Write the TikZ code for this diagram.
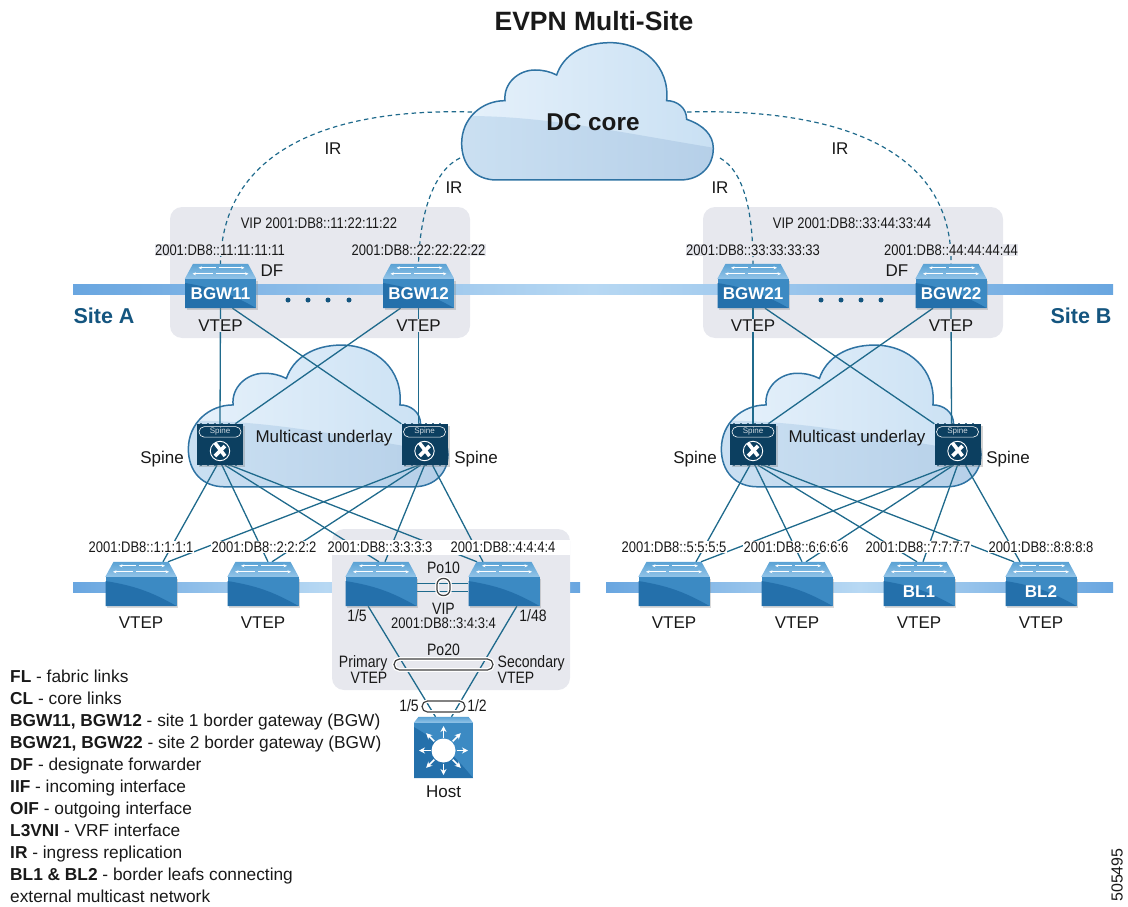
\documentclass[tikz,border=0pt]{standalone}
\usepackage{fontspec}
\setmainfont{Liberation Sans}
\newfontfamily\narrowfont[FakeStretch=0.85]{Liberation Sans}
\usetikzlibrary{calc,shapes.misc,arrows.meta,shadows}

\definecolor{panelgray}{HTML}{E7E8EE}
\definecolor{linkteal}{HTML}{1F6A8C}
\definecolor{bandblue}{HTML}{69A6E0}
\definecolor{bandpale}{HTML}{B7D8F3}
\definecolor{sitenavy}{HTML}{14557F}
\definecolor{swfront}{HTML}{3C8AC3}
\definecolor{swdark}{HTML}{2470AB}
\definecolor{swupper}{HTML}{5AA2D4}
\definecolor{swlower}{HTML}{93C4E8}
\definecolor{spinenavy}{HTML}{0C3F60}
\definecolor{cloudpale}{HTML}{E6F1FB}
\definecolor{cloudmid}{HTML}{C9E0F3}
\definecolor{cloudlowa}{HTML}{CBE0F2}
\definecolor{cloudlowb}{HTML}{B5CFE8}
\definecolor{cloudedge}{HTML}{2F73A3}

\pgfdeclarelayer{backdrop}
\pgfdeclarelayer{wires}
\pgfsetlayers{backdrop,wires,main}

\newcommand{\cloudoutline}{(170,450) .. controls (105,450) and (65,405) .. (65,340)
  .. controls (65,265) and (125,212) .. (195,212)
  .. controls (190,160) and (235,120) .. (285,120)
  .. controls (310,120) and (330,125) .. (350,135)
  .. controls (370,75) and (430,38) .. (510,38)
  .. controls (610,38) and (690,110) .. (680,212)
  .. controls (710,212) and (740,232) .. (740,268)
  .. controls (790,285) and (820,315) .. (820,355)
  .. controls (820,410) and (780,450) .. (720,450) -- cycle}

\tikzset{
  panel/.style={fill=panelgray,rounded corners=12pt},
  wire/.style={draw=linkteal,line width=1.3pt},
  irwire/.style={wire,line width=1.2pt,dash pattern=on 4.5pt off 3.5pt},
  addr/.style={font=\narrowfont\fontsize{15.3}{16}\selectfont,text=black!90,inner sep=0.5pt,fill=white},
  addrpanel/.style={addr,fill=panelgray},
  small/.style={font=\narrowfont\fontsize{16.5}{16}\selectfont,text=black!90,inner sep=0.5pt},
  tag/.style={font=\fontsize{17}{18}\selectfont,text=black!90,inner sep=0.5pt},
  tagpanel/.style={tag,fill=panelgray},
  sitename/.style={font=\bfseries\fontsize{21.5}{22}\selectfont,text=sitenavy,inner sep=0pt},
  gloss/.style={path picture={
    \fill[swdark] (path picture bounding box.south west)
      -- ([yshift=-4pt]path picture bounding box.north west)
      to[bend left=10] (path picture bounding box.south east) -- cycle;}},
  switchbox/.style={rectangle,fill=swfront,gloss,minimum width=71pt,minimum height=29pt,inner sep=0pt,
    text=white,font=\bfseries\fontsize{17}{18}\selectfont,
    drop shadow={opacity=.3,shadow xshift=1.5pt,shadow yshift=-1.5pt}},
  hostbox/.style={rectangle,fill=swfront,gloss,minimum width=59pt,minimum height=55pt,inner sep=0pt},
  swarrow/.style={draw=white,line width=.7pt,-{Stealth[length=3.5pt,width=3pt]}},
  spinebox/.style={rectangle,fill=spinenavy,minimum width=46pt,minimum height=41pt,inner sep=0pt,
    drop shadow={opacity=.35,shadow xshift=2pt,shadow yshift=-2pt}},
  spinetick/.style={draw=black!5!cyan!30!spinenavy,line width=1pt,dash pattern=on 2pt off 5pt},
  spinepill/.style={rounded rectangle,draw=white,line width=.6pt,text=white!80!spinenavy,inner sep=0pt,
    minimum width=42pt,minimum height=10.5pt,font=\fontsize{8}{8}\selectfont},
  lagoval/.style={rectangle,draw=black!75,line width=1.2pt,inner sep=0pt,
    preaction={draw=white,line width=3.8pt}},
  dots/.style={circle,fill=sitenavy,minimum size=5pt,inner sep=0pt},
  cloudpic/.pic={
    \shade[left color=cloudpale,right color=cloudmid] \cloudoutline;
    \begin{scope}
      \clip \cloudoutline;
      \shade[left color=cloudlowa,right color=cloudlowb] (50,258) .. controls (300,255) and (500,300) .. (830,355)
        -- (830,460) -- (50,460) -- cycle;
    \end{scope}
    \draw[cloudedge,line width=1.5pt] \cloudoutline;
  }
}

\newcommand{\switchnode}[4]{%
  \node[switchbox] (#1) at (#2,#3) {#4};
  \coordinate (#1-top) at ([yshift=15pt]#1.north);
  \shade[top color=swupper,bottom color=swlower] (#1.north west) -- ([xshift=-27.5pt]#1-top)
    -- ([xshift=27.5pt]#1-top) -- (#1.north east) -- cycle;
  \draw[swarrow] ([shift={(-5,4)}]#1-top) -- ([shift={(-22,4)}]#1-top);
  \draw[swarrow] ([shift={(-2,4)}]#1-top) -- ([shift={(24,4)}]#1-top);
  \draw[swarrow] ([shift={(-8,10)}]#1-top) -- ([shift={(-28,10)}]#1-top);
  \draw[swarrow] ([shift={(-5,10)}]#1-top) -- ([shift={(28,10)}]#1-top);
}
\newcommand{\spinenode}[3]{%
  \node[spinebox] (#1) at (#2,#3) {};
  \draw[spinetick] ([xshift=3pt]#1.north west) -- ([xshift=-3pt]#1.north east);
  \draw[spinetick] ([xshift=3pt]#1.south west) -- ([xshift=-3pt]#1.south east);
  \node[spinepill] (#1-tag) at ([yshift=12.6pt]#1.center) {Spine};
  \draw[white,line width=.9pt] ([yshift=-6.5pt]#1.center) circle (9.7);
  \draw[white,line width=3.6pt] ([shift={(-5,-1.5)}]#1.center) -- ([shift={(5,11.5)}]#1.center);
  \draw[white,line width=3.6pt] ([shift={(5,1.5)}]#1.center) -- ([shift={(-5,11.5)}]#1.center);
}

\begin{document}
\begin{tikzpicture}[x=1pt,y=-1pt]
\useasboundingbox (0,0) rectangle (1128,907);

\begin{pgfonlayer}{backdrop}
\fill[panel] (170,207) rectangle (470,338);
\fill[panel] (703,207) rectangle (1003,338);
\shade[left color=bandblue,right color=bandblue,middle color=bandpale] (73,284) rectangle (1113,294);
\shade[left color=bandblue,right color=bandblue,middle color=bandpale] (73,582) rectangle (580,592);
\shade[left color=bandblue,right color=bandblue,middle color=bandpale] (606,582) rectangle (1113,592);
\fill[panel] (332,529) rectangle (570,690);
\pic[scale=.3333] at (440,30) {cloudpic};
\pic[scale=.344] at (166,332) {cloudpic};
\pic[scale=.344] at (699,332) {cloudpic};
\end{pgfonlayer}

\node[font=\bfseries\fontsize{26.5}{28}\selectfont,text=black!90,inner sep=0pt] (title) at (594,21) {EVPN Multi-Site};
\node[font=\bfseries\fontsize{24.3}{26}\selectfont,text=black!90,inner sep=0pt] (dccore) at (593,122) {DC core};
\coordinate (coreNW) at (472,112);
\coordinate (coreSW) at (460,158);
\coordinate (coreSE) at (720,158);
\coordinate (coreNE) at (687,112);

\fill[white] (332,540) rectangle (570,555);

\switchnode{bgwA}{220.5}{293.5}{BGW11}
\switchnode{bgwB}{418.5}{293.5}{BGW12}
\switchnode{bgwC}{753}{293.5}{BGW21}
\switchnode{bgwD}{951}{293.5}{BGW22}

\switchnode{leafA}{141}{591.5}{}
\switchnode{leafB}{263}{591.5}{}
\switchnode{leafC}{381}{591.5}{}
\switchnode{leafD}{504}{591.5}{}
\switchnode{leafE}{674}{591.5}{}
\switchnode{leafF}{797}{591.5}{}
\switchnode{leafG}{919}{591.5}{BL1}
\switchnode{leafH}{1041}{591.5}{BL2}

\spinenode{spineA}{220}{444.5}
\spinenode{spineB}{424.5}{444.5}
\spinenode{spineC}{753}{444.5}
\spinenode{spineD}{957.5}{444.5}

\node[hostbox] (host) at (443.5,750.5) {};
\coordinate (host-top) at ([yshift=6pt]host.north);
\shade[top color=swupper,bottom color=swlower] (host.north west) -- ([xshift=-25pt]host-top) -- ([xshift=25pt]host-top) -- (host.north east) -- cycle;
\fill[white] (host.center) circle (12);
\foreach \a in {0,45,...,315}
  \draw[white,line width=1.5pt,-{Stealth[length=6pt,width=6pt]}] ($(host.center)+(\a:13)$) -- ($(host.center)+(\a:24.5)$);

\node[lagoval,minimum width=13pt,minimum height=17pt,rounded corners=6pt] (poten) at (443.5,587) {};
\node[lagoval,minimum width=99pt,minimum height=11pt,rounded corners=5.5pt] (potwenty) at (443.5,664.5) {};
\node[lagoval,minimum width=43pt,minimum height=11pt,rounded corners=5.5pt] (hostlag) at (443.5,706.5) {};

\begin{pgfonlayer}{wires}
\draw[irwire] (coreNW) .. controls (330,108) and (222,150) .. (bgwA-top);
\draw[irwire] (coreSW) .. controls (435,170) and (420,210) .. (bgwB-top);
\draw[irwire] (coreSE) .. controls (745,172) and (753,215) .. (bgwC-top);
\draw[irwire] (coreNE) .. controls (840,108) and (953,150) .. (bgwD-top);

\foreach \bl/\br/\sl/\sr/\la/\lb/\lc/\ld in {bgwA/bgwB/spineA/spineB/leafA/leafB/leafC/leafD,bgwC/bgwD/spineC/spineD/leafE/leafF/leafG/leafH} {
  \draw[wire] (\bl.south) -- (\sl.north);
  \draw[wire] (\br.south) -- ([xshift=-6pt]\sr.north);
  \draw[wire] ([xshift=12pt]\bl.south) -- (\sr.north west);
  \draw[wire] ([xshift=-18pt]\br.south) -- ([xshift=-8pt]\sl.north east);
  \draw[wire] ([xshift=-3pt]\sl.south) -- ([xshift=22pt]\la-top);
  \draw[wire] ([xshift=2pt]\sl.south) -- ([xshift=5pt]\lb-top);
  \draw[wire] ([xshift=5pt]\sl.south) -- ([xshift=-2pt]\lc-top);
  \draw[wire] ([xshift=10pt]\sl.south) -- ([xshift=-27pt]\ld-top);
  \draw[wire] ([xshift=-6pt]\sr.south) -- ([xshift=27pt]\la-top);
  \draw[wire] ([xshift=-4pt]\sr.south) -- ([xshift=9pt]\lb-top);
  \draw[wire] (\sr.south) -- ([xshift=4pt]\lc-top);
  \draw[wire] ([xshift=8pt]\sr.south) -- ([xshift=-21pt]\ld-top);
}

\draw[wire] ([yshift=8pt]leafC.east) -- ([yshift=8pt]leafD.west);
\draw[wire] (leafC.east) -- (leafD.west);
\draw[wire] ($(leafC.south west)!.32!(leafC.south east)$) -- ([xshift=-8pt]host-top);
\draw[wire] ($(leafD.south west)!.68!(leafD.south east)$) -- ([xshift=8pt]host-top);
\end{pgfonlayer}

\node[tag] (irA) at (333,149) {IR};
\node[tag] (irB) at (454,188) {IR};
\node[tag] (irC) at (720,188) {IR};
\node[tag] (irD) at (840,149) {IR};

\node[addr,fill=none] (vipA) at (319,223) {VIP 2001:DB8::11:22:11:22};
\node[addr,fill=none] (vipB) at (852,223) {VIP 2001:DB8::33:44:33:44};
\node[addrpanel] (addrA) at (220,250) {2001:DB8::11:11:11:11};
\node[addrpanel] (addrB) at (418.5,250) {2001:DB8::22:22:22:22};
\node[addrpanel] (addrC) at (753,250) {2001:DB8::33:33:33:33};
\node[addrpanel] (addrD) at (951,250) {2001:DB8::44:44:44:44};
\node[tag] (dfA) at (272,271) {DF};
\node[tag] (dfB) at (897,271) {DF};

\foreach \x in {288,308,328,349,821,841,861,881}
  \node[dots] (dot\x) at (\x,300) {};

\node[sitename] (siteA) at (104,316) {Site A};
\node[sitename] (siteB) at (1081,316) {Site B};
\node[tagpanel] (vtepA) at (220.5,325.5) {VTEP};
\node[tagpanel] (vtepB) at (418.5,325.5) {VTEP};
\node[tagpanel] (vtepC) at (753,325.5) {VTEP};
\node[tagpanel] (vtepD) at (951,325.5) {VTEP};

\node[tag] (underlayA) at (324,438.5) {Multicast underlay};
\node[tag] (underlayB) at (857,438.5) {Multicast underlay};
\node[tag] (spinetextA) at (162,459.5) {Spine};
\node[tag] (spinetextB) at (476,459.5) {Spine};
\node[tag] (spinetextC) at (695,459.5) {Spine};
\node[tag] (spinetextD) at (1008,459.5) {Spine};

\node[addr] (addrE) at (141,547) {2001:DB8::1:1:1:1};
\node[addr] (addrF) at (264,547) {2001:DB8::2:2:2:2};
\node[addr] (addrG) at (380,547) {2001:DB8::3:3:3:3};
\node[addr] (addrH) at (503,547) {2001:DB8::4:4:4:4};
\node[addr] (addrI) at (674,547) {2001:DB8::5:5:5:5};
\node[addr] (addrJ) at (796,547) {2001:DB8::6:6:6:6};
\node[addr] (addrK) at (918,547) {2001:DB8::7:7:7:7};
\node[addr] (addrL) at (1041,547) {2001:DB8::8:8:8:8};

\node[tag] (vtepE) at (141,622.5) {VTEP};
\node[tag] (vtepF) at (263,622.5) {VTEP};
\node[tag] (vtepG) at (674,622.5) {VTEP};
\node[tag] (vtepH) at (797,622.5) {VTEP};
\node[tag] (vtepI) at (919,622.5) {VTEP};
\node[tag] (vtepJ) at (1041,622.5) {VTEP};

\node[small] (poA) at (443.5,568) {Po10};
\node[small] (vipC) at (443.5,609) {VIP};
\node[addr,fill=none] (vipD) at (443.5,623) {2001:DB8::3:4:3:4};
\node[small] (portA) at (357,616) {1/5};
\node[small] (portB) at (533,616) {1/48};
\node[small] (poB) at (443.5,650) {Po20};
\node[small,anchor=east,align=right] (primary) at (388,670) {Primary\\VTEP};
\node[small,anchor=west,align=left] (secondary) at (497,670) {Secondary\\VTEP};
\node[small] (portC) at (409,706) {1/5};
\node[small] (portD) at (477,706) {1/2};
\node[tag] (hostname) at (443.5,792) {Host};

\node[anchor=north west,align=left,inner sep=0pt,text=black!90,font=\fontsize{17.3}{22}\selectfont] (legend) at (10,669.5) {%
\textbf{FL} - fabric links\\
\textbf{CL} - core links\\
\textbf{BGW11, BGW12} - site 1 border gateway (BGW)\\
\textbf{BGW21, BGW22} - site 2 border gateway (BGW)\\
\textbf{DF} - designate forwarder\\
\textbf{IIF} - incoming interface\\
\textbf{OIF} - outgoing interface\\
\textbf{L3VNI} - VRF interface\\
\textbf{IR} - ingress replication\\
\textbf{BL1 \& BL2} - border leafs connecting\\
external multicast network};

\node[rotate=90,font=\fontsize{16}{16}\selectfont,text=black!90,inner sep=0pt] (figid) at (1117,875) {505495};
\end{tikzpicture}
\end{document}
